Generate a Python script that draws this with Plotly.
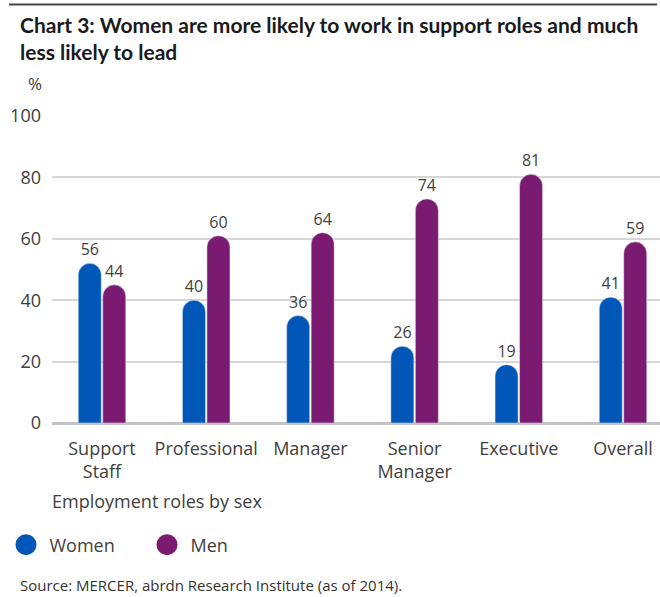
import plotly.graph_objects as go

categories = ["Support<br>Staff", "Professional", "Manager", "Senior<br>Manager", "Executive", "Overall"]
women_values = [52, 40, 35, 25, 19, 41]
men_values = [45, 61, 62, 73, 81, 59]
women_labels = ["56", "40", "36", "26", "19", "41"]
men_labels = ["44", "60", "64", "74", "81", "59"]
y_ticks = [0, 20, 40, 60, 80, 100]

WOMEN = "#0057b8"
MEN = "#7a1a70"
FONT = "Open Sans"
TXT = "#404040"

fig = go.Figure()
fig.add_trace(go.Bar(x=categories, y=women_values, text=women_labels, name="Women",
                     marker=dict(color=WOMEN), textposition="outside", cliponaxis=False,
                     textfont=dict(size=16, color=TXT, family=FONT), showlegend=False,
                     hoverinfo="skip"))
fig.add_trace(go.Bar(x=categories, y=men_values, text=men_labels, name="Men",
                     marker=dict(color=MEN), textposition="outside", cliponaxis=False,
                     textfont=dict(size=16, color=TXT, family=FONT), showlegend=False,
                     hoverinfo="skip"))
# legend entries as circles
for nm, col in [("Women", WOMEN), ("Men", MEN)]:
    fig.add_trace(go.Scatter(x=[None], y=[None], mode="markers", name=nm,
                             marker=dict(color=col, size=16, symbol="circle",
                                         line=dict(color=col, width=5))))

fig.update_layout(
    width=660, height=597,
    margin=dict(l=52, r=0, t=116, b=174),
    paper_bgcolor="white", plot_bgcolor="white",
    font=dict(family=FONT, color=TXT, size=18),
    barmode="group", bargap=0.53, bargroupgap=0.06, barcornerradius="50%",
    title=dict(text="<b>Chart 3: Women are more likely to work in support roles and much<br>less likely to lead</b>",
               xref="container", yref="container", x=20/660, xanchor="left",
               y=1-33/597, yanchor="top",
               font=dict(family="Lato", size=21, color="#1a1a1a")),
    xaxis=dict(range=[-0.48, 5.355], showgrid=False, zeroline=False, showline=False,
               ticks="", ticklabelstandoff=13,
               tickfont=dict(size=18, color=TXT, family=FONT), fixedrange=True),
    yaxis=dict(range=[0, 100], tickvals=y_ticks, showgrid=True, gridcolor="#d6d6d6",
               gridwidth=1.5, zeroline=True, zerolinecolor="#c4c4c4", zerolinewidth=3,
               showline=False, ticks="", ticklabelstandoff=10,
               tickfont=dict(size=18, color=TXT, family=FONT)),
    legend=dict(orientation="h", xref="container", yref="container",
                x=2.5/660, xanchor="left", y=1-545/597, yanchor="middle",
                font=dict(size=18, color=TXT, family=FONT),
                entrywidth=89, itemwidth=37, bgcolor="rgba(0,0,0,0)"),
    shapes=[dict(type="line", xref="paper", yref="paper", layer="above",
                 x0=-43/608, x1=605/608, y0=1+(116-4.5)/307, y1=1+(116-4.5)/307,
                 line=dict(color="#444444", width=2))],
    annotations=[
        dict(text="%", xref="paper", yref="paper", x=(35-52)/608, y=1+(116-84)/307,
             xanchor="center", yanchor="middle", showarrow=False,
             font=dict(size=17, color=TXT, family=FONT)),
        dict(text="Employment roles by sex", xref="paper", yref="paper",
             x=(50-52)/608, y=-(501-423)/307, xanchor="left", yanchor="middle",
             showarrow=False, font=dict(size=18, color=TXT, family=FONT)),
        dict(text="Source: MERCER, abrdn Research Institute (as of 2014).", xref="paper", yref="paper",
             x=(18-52)/608, y=-(585-423)/307, xanchor="left", yanchor="middle",
             showarrow=False, font=dict(size=15, color="#333333", family=FONT)),
    ],
)

fig.write_html("out.html")
